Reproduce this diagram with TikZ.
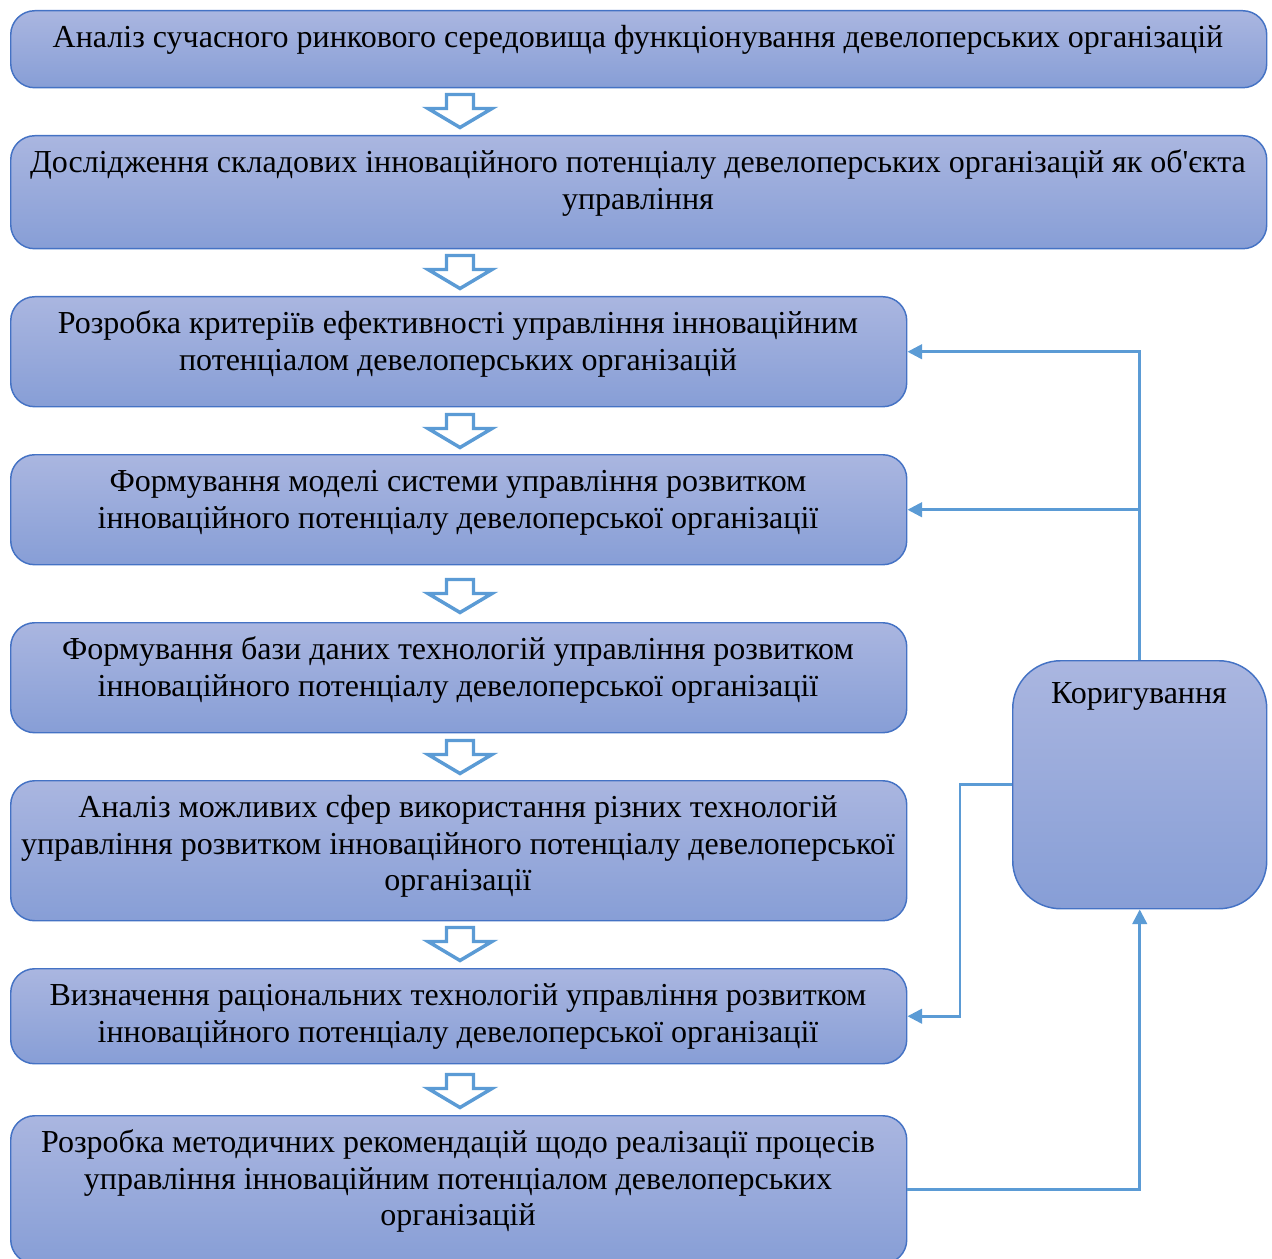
\documentclass[tikz,border=0pt]{standalone}
\usepackage{fontspec}
\newfontfamily\ser{Liberation Serif}
\usetikzlibrary{arrows.meta}
\definecolor{boxtop}{HTML}{AAB6E0}
\definecolor{boxbot}{HTML}{879ED6}
\definecolor{boxline}{HTML}{4472C4}
\definecolor{conncol}{HTML}{5B9BD5}
\begin{document}
\begin{tikzpicture}[x=0.75pt,y=-0.75pt,
  box/.style={draw=boxline, line width=1.1pt, top color=boxtop, bottom color=boxbot,
    rounded corners=18pt, anchor=north west, inner sep=0pt},
  txt/.style={anchor=north, align=center, inner sep=0pt,
    font=\ser\fontsize{24}{27.6}\selectfont},
  conn/.style={draw=conncol, line width=1.9pt},
  tip/.style={-{Triangle[length=11pt,width=11pt]}},
  downarrow/.pic={\draw[draw=conncol, fill=white, line width=2.6pt, line join=miter]
     (-13.5,-16.5) -- (13.5,-16.5) -- (13.5,-2.5) -- (32,-2.5) -- (0,16.5)
     -- (-32,-2.5) -- (-13.5,-2.5) -- cycle;}]
\useasboundingbox (0,0) rectangle (1272,1259);

\node[box, minimum width=1256*0.75pt, minimum height=77*0.75pt] (b1) at (10,10) {};
\node[box, minimum width=1256*0.75pt, minimum height=113*0.75pt] (b2) at (10,135) {};
\node[box, minimum width=896*0.75pt, minimum height=110*0.75pt] (b3) at (10,296) {};
\node[box, minimum width=896*0.75pt, minimum height=110*0.75pt] (b4) at (10,454) {};
\node[box, minimum width=896*0.75pt, minimum height=110*0.75pt] (b5) at (10,622) {};
\node[box, minimum width=896*0.75pt, minimum height=140*0.75pt] (b6) at (10,780) {};
\node[box, minimum width=896*0.75pt, minimum height=95*0.75pt] (b7) at (10,968) {};
\node[box, minimum width=896*0.75pt, minimum height=148*0.75pt] (b8) at (10,1115) {};
\node[box, rounded corners=36pt, minimum width=254*0.75pt, minimum height=248*0.75pt] (k) at (1012,660) {};

\node[txt] (t1) at (638,21.2) {\strut Аналіз сучасного ринкового середовища функціонування девелоперських організацій};
\node[txt] (t2) at (638,146.2) {\strut Дослідження складових інноваційного потенціалу девелоперських організацій як об'єкта\\управління};
\node[txt] (t3) at (458,307.2) {\strut Розробка критеріїв ефективності управління інноваційним\\потенціалом девелоперських організацій};
\node[txt] (t4) at (458,465.2) {\strut Формування моделі системи управління розвитком\\інноваційного потенціалу девелоперської організації};
\node[txt] (t5) at (458,633.2) {\strut Формування бази даних технологій управління розвитком\\інноваційного потенціалу девелоперської організації};
\node[txt] (t6) at (458,791.2) {\strut Аналіз можливих сфер використання різних технологій\\управління розвитком інноваційного потенціалу девелоперської\\організації};
\node[txt] (t7) at (458,979.2) {\strut Визначення раціональних технологій управління розвитком\\інноваційного потенціалу девелоперської організації};
\node[txt] (t8) at (458,1126.2) {\strut Розробка методичних рекомендацій щодо реалізації процесів\\управління інноваційним потенціалом девелоперських\\організацій};
\node[txt] (tk) at (1139,677.2) {\strut Коригування};

\pic at (460,111) {downarrow};
\pic at (460,272) {downarrow};
\pic at (460,431) {downarrow};
\pic at (460,596) {downarrow};
\pic at (460,757) {downarrow};
\pic at (460,944) {downarrow};
\pic at (460,1091) {downarrow};

\draw[conn, tip] (k.north) -- (k.north |- b3.east) -- (b3.east);
\draw[conn, tip] (k.north |- b4.east) -- (b4.east);
\coordinate (j1) at ([xshift=-39pt]k.west);
\draw[conn, tip] (k.west) -- (j1) -- (j1 |- b7.east) -- (b7.east);
\draw[conn, tip] (b8.east) -- (k.south |- b8.east) -- (k.south);
\end{tikzpicture}
\end{document}
